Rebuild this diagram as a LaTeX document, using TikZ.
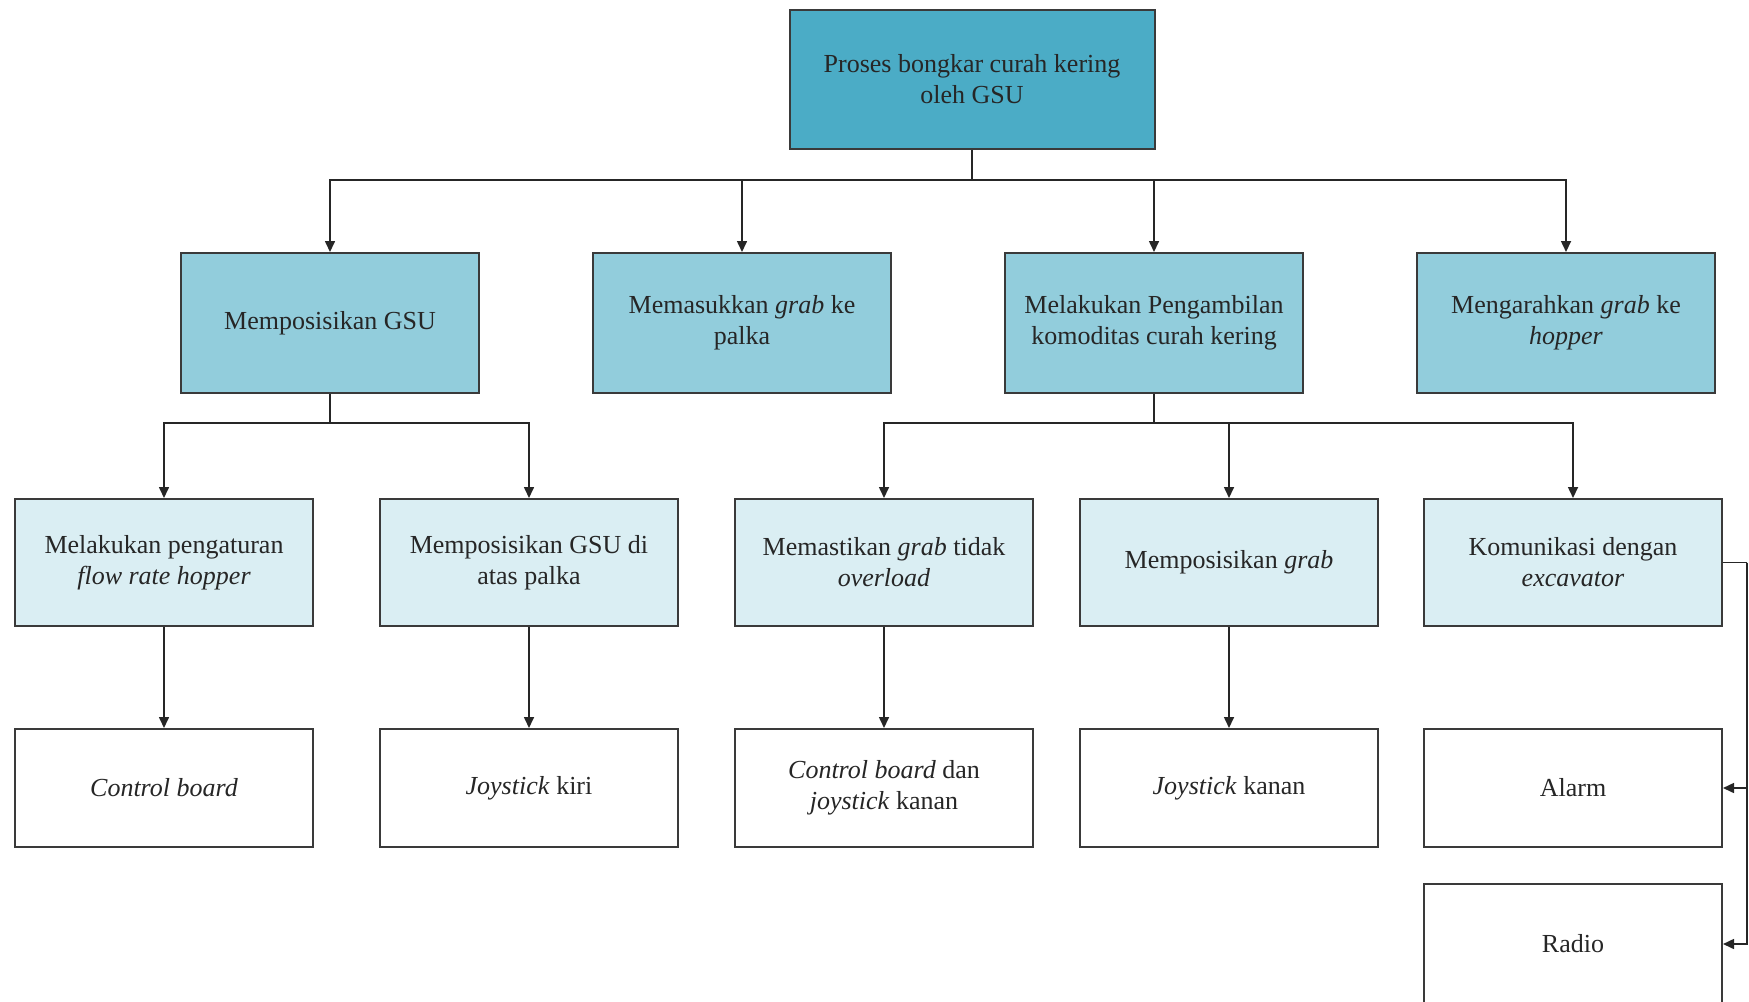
\documentclass[tikz,border=0pt]{standalone}
\usepackage{fontspec}
\setmainfont{Liberation Serif}
\usetikzlibrary{arrows.meta}
\definecolor{topc}{HTML}{4BACC6}
\definecolor{lvone}{HTML}{92CDDC}
\definecolor{lvtwo}{HTML}{DAEEF3}
\definecolor{bord}{HTML}{3A3A3A}
\tikzset{
  box/.style={draw=bord, line width=1pt, align=center, inner sep=0pt,
    minimum width=149pt, font=\fontsize{13}{15.6}\selectfont, text=black!85},
  topbox/.style={box, fill=topc, minimum width=182.5pt, minimum height=69.5pt},
  onebox/.style={box, fill=lvone, minimum height=70pt},
  twobox/.style={box, fill=lvtwo, minimum height=63.5pt},
  threebox/.style={box, fill=white, minimum height=59pt},
  arr/.style={draw=black!85, line width=0.8pt, -{Triangle[length=5.5pt,width=5pt]}},
  ln/.style={draw=black!85, line width=0.8pt}
}
\begin{document}
\begin{tikzpicture}[x=0.5pt,y=-0.5pt]
\useasboundingbox (0,0) rectangle (1749,1001);
\node[topbox] (top) at (972,79) {Proses bongkar curah kering\\oleh GSU};
\node[onebox] (a1) at (330,323) {Memposisikan GSU};
\node[onebox] (a2) at (742,323) {Memasukkan \emph{grab} ke\\palka};
\node[onebox] (a3) at (1154,323) {Melakukan Pengambilan\\komoditas curah kering};
\node[onebox] (a4) at (1566,323) {Mengarahkan \emph{grab} ke\\\emph{hopper}};
\node[twobox] (b1) at (164,562.5) {Melakukan pengaturan\\\emph{flow rate hopper}};
\node[twobox] (b2) at (529,562.5) {Memposisikan GSU di\\atas palka};
\node[twobox] (b3) at (884,562.5) {Memastikan \emph{grab} tidak\\\emph{overload}};
\node[twobox] (b4) at (1229,562.5) {Memposisikan \emph{grab}};
\node[twobox] (b5) at (1573,562.5) {Komunikasi dengan\\\emph{excavator}};
\node[threebox] (c1) at (164,788) {\emph{Control board}};
\node[threebox] (c2) at (529,788) {\emph{Joystick} kiri};
\node[threebox] (c3) at (884,788) {\emph{Control board} dan\\\emph{joystick} kanan};
\node[threebox] (c4) at (1229,788) {\emph{Joystick} kanan};
\node[threebox] (c5) at (1573,788) {Alarm};
\node[threebox, minimum height=60pt] (c6) at (1573,944) {Radio};
\coordinate (j0) at (972,180);
\coordinate (j1) at (330,423);
\coordinate (j3) at (1154,423);
\coordinate (rj) at (1747,562.5);
\draw[ln] (top.south) -- (j0);
\foreach \n in {a1,a2,a3,a4} \draw[arr] (j0) -| (\n.north);
\draw[ln] (a1.south) -- (j1);
\foreach \n in {b1,b2} \draw[arr] (j1) -| (\n.north);
\draw[ln] (a3.south) -- (j3);
\foreach \n in {b3,b4,b5} \draw[arr] (j3) -| (\n.north);
\draw[arr] (b1) -- (c1);
\draw[arr] (b2) -- (c2);
\draw[arr] (b3) -- (c3);
\draw[arr] (b4) -- (c4);
\draw[ln] (b5.east) -- (rj);
\draw[arr] (rj) |- (c5.east);
\draw[arr] (rj) |- (c6.east);
\end{tikzpicture}
\end{document}
